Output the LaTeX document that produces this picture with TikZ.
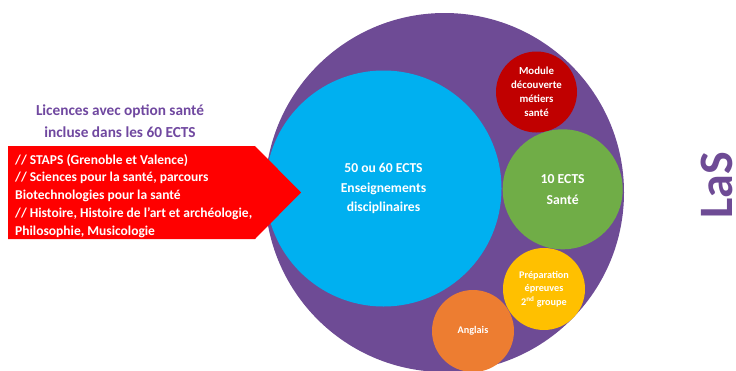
\documentclass[tikz,border=0pt]{standalone}
\usepackage{fontspec}
\setmainfont{Carlito}
\definecolor{lasPurple}{HTML}{6E4B95}
\definecolor{titlePurple}{HTML}{7048A0}
\definecolor{discBlue}{HTML}{00B0F0}
\definecolor{modRed}{HTML}{C00000}
\definecolor{santeGreen}{HTML}{70AD47}
\definecolor{prepYellow}{HTML}{FFC000}
\definecolor{anglOrange}{HTML}{ED7D31}
\definecolor{arrowRed}{HTML}{FF0000}
\tikzset{
  bubble/.style={circle, inner sep=0pt, text=white, align=center, font=\bfseries},
}
\begin{document}
\begin{tikzpicture}[x=1pt,y=-1pt]
\useasboundingbox (0,0) rectangle (736,370);
\fill[white] (0,0) rectangle (736,370);
% big purple circle
\node[bubble, fill=lasPurple, minimum size=359pt] (las) at (444.5,192.5) {};
% disciplinary
\node[bubble, fill=discBlue, minimum size=236pt, font=\bfseries\fontsize{13.6}{19.5}\selectfont] (disc) at (383.5,188.5)
  {50 ou 60 ECTS\\Enseignements\\disciplinaires};
% module
\node[bubble, fill=modRed, minimum size=81pt, font=\bfseries\fontsize{10.8}{14}\selectfont] (module) at (536.5,92)
  {Module\\découverte\\métiers\\santé};
% santé
\node[bubble, fill=santeGreen, minimum size=120pt, font=\bfseries\fontsize{13.7}{21}\selectfont] (sante) at (562.7,189.3)
  {10 ECTS\\Santé};
% préparation
\node[bubble, fill=prepYellow, minimum size=82pt, font=\bfseries\fontsize{10.2}{13.5}\selectfont] (prep) at (544,289)
  {Préparation\\épreuves\\2\textsuperscript{nd} groupe};
% anglais
\node[bubble, fill=anglOrange, minimum size=82pt, font=\bfseries\fontsize{10.2}{13.5}\selectfont] (angl) at (473,331)
  {Anglais};
% red arrow
\fill[arrowRed] (8,146) -- (255,146) -- (301,192.5) -- (255,239) -- (8,239) -- cycle;
\node[anchor=north west, inner sep=0pt, text=white, align=left, font=\bfseries\fontsize{13.5}{17.7}\selectfont] (licences) at (15,154)
  {// STAPS (Grenoble et Valence)\\// Sciences pour la santé, parcours\\Biotechnologies pour la santé\\// Histoire, Histoire de l’art et archéologie,\\Philosophie, Musicologie};
% title
\node[text=titlePurple, align=center, inner sep=0pt, font=\bfseries\fontsize{15.3}{21.5}\selectfont] (title) at (120,121)
  {Licences avec option santé\\incluse dans les 60 ECTS};
% LaS
\node[rotate=90, inner sep=0pt, text=lasPurple, font=\bfseries\fontsize{48}{48}\selectfont] (lastext) at (717,185) {LaS};
\end{tikzpicture}
\end{document}
